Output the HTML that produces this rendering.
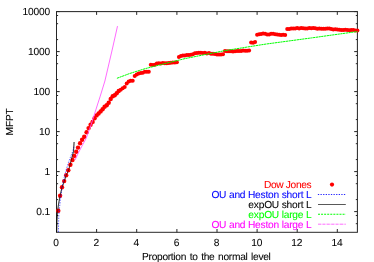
<!DOCTYPE html><html><head><meta charset="utf-8"><title>MFPT</title><style>html,body{margin:0;padding:0;background:#fff}svg{display:block}text{text-rendering:geometricPrecision;letter-spacing:-0.16px;font-family:"Liberation Sans",sans-serif;font-size:10.2px}</style></head><body>
<svg width="374" height="262" viewBox="0 0 374 262">
<rect width="374" height="262" fill="#fff"/>
<defs><filter id="b" x="0" y="0" width="374" height="262" filterUnits="userSpaceOnUse"><feGaussianBlur stdDeviation="0.35"/></filter><filter id="b3" x="0" y="0" width="374" height="262" filterUnits="userSpaceOnUse"><feGaussianBlur stdDeviation="0.5"/></filter><filter id="b2" x="0" y="0" width="374" height="262" filterUnits="userSpaceOnUse"><feGaussianBlur stdDeviation="0.22"/></filter></defs>
<g filter="url(#b2)" stroke="#262626" stroke-width="1" fill="none">
<rect x="56.5" y="11.6" width="300.9" height="220.7"/>
<path d="M56.5 232.3 v-3.3 M56.5 11.6 v3.3"/>
<path d="M96.6 232.3 v-3.3 M96.6 11.6 v3.3"/>
<path d="M136.7 232.3 v-3.3 M136.7 11.6 v3.3"/>
<path d="M176.9 232.3 v-3.3 M176.9 11.6 v3.3"/>
<path d="M217.0 232.3 v-3.3 M217.0 11.6 v3.3"/>
<path d="M257.1 232.3 v-3.3 M257.1 11.6 v3.3"/>
<path d="M297.2 232.3 v-3.3 M297.2 11.6 v3.3"/>
<path d="M337.3 232.3 v-3.3 M337.3 11.6 v3.3"/>
<path d="M56.5 223.7 h1.6 M357.4 223.7 h-1.6"/>
<path d="M56.5 215.5 h1.6 M357.4 215.5 h-1.6"/>
<path d="M56.5 211.6 h3.2 M357.4 211.6 h-3.2"/>
<path d="M56.5 199.6 h1.6 M357.4 199.6 h-1.6"/>
<path d="M56.5 183.7 h1.6 M357.4 183.7 h-1.6"/>
<path d="M56.5 175.5 h1.6 M357.4 175.5 h-1.6"/>
<path d="M56.5 171.6 h3.2 M357.4 171.6 h-3.2"/>
<path d="M56.5 159.6 h1.6 M357.4 159.6 h-1.6"/>
<path d="M56.5 143.7 h1.6 M357.4 143.7 h-1.6"/>
<path d="M56.5 135.5 h1.6 M357.4 135.5 h-1.6"/>
<path d="M56.5 131.6 h3.2 M357.4 131.6 h-3.2"/>
<path d="M56.5 119.6 h1.6 M357.4 119.6 h-1.6"/>
<path d="M56.5 103.7 h1.6 M357.4 103.7 h-1.6"/>
<path d="M56.5 95.5 h1.6 M357.4 95.5 h-1.6"/>
<path d="M56.5 91.6 h3.2 M357.4 91.6 h-3.2"/>
<path d="M56.5 79.6 h1.6 M357.4 79.6 h-1.6"/>
<path d="M56.5 63.7 h1.6 M357.4 63.7 h-1.6"/>
<path d="M56.5 55.5 h1.6 M357.4 55.5 h-1.6"/>
<path d="M56.5 51.6 h3.2 M357.4 51.6 h-3.2"/>
<path d="M56.5 39.6 h1.6 M357.4 39.6 h-1.6"/>
<path d="M56.5 23.7 h1.6 M357.4 23.7 h-1.6"/>
<path d="M56.5 15.5 h1.6 M357.4 15.5 h-1.6"/>
<path d="M56.5 11.6 h3.2 M357.4 11.6 h-3.2"/>
</g>
<g filter="url(#b)">
<path d="M56.7 232.0 L56.9 222.0 L57.4 213.0 L58.4 205.0 L60.1 195.8 L62.0 187.3 L64.2 181.3 L66.2 175.3 L68.7 170.0 L71.4 159.7 L73.5 151.5 L74.1 142.0" fill="none" stroke="#000" stroke-width="0.5"/>
<g fill="#ff0000">
<circle cx="58.3" cy="210.8" r="2.2"/>
<circle cx="60.1" cy="195.8" r="2.2"/>
<circle cx="62.0" cy="187.3" r="2.2"/>
<circle cx="64.2" cy="181.1" r="2.2"/>
<circle cx="66.2" cy="175.3" r="2.2"/>
<circle cx="68.3" cy="170.2" r="2.2"/>
<circle cx="70.4" cy="164.7" r="2.2"/>
<circle cx="72.5" cy="160.0" r="2.2"/>
<circle cx="74.3" cy="155.9" r="2.2"/>
<circle cx="76.2" cy="151.7" r="2.2"/>
<circle cx="78.0" cy="147.6" r="2.2"/>
<circle cx="80.1" cy="143.3" r="2.2"/>
<circle cx="82.1" cy="139.8" r="2.2"/>
<circle cx="84.2" cy="136.8" r="2.2"/>
<circle cx="86.6" cy="132.2" r="2.2"/>
<circle cx="88.6" cy="128.1" r="2.2"/>
<circle cx="90.6" cy="124.7" r="2.2"/>
<circle cx="92.6" cy="121.9" r="2.2"/>
<circle cx="94.6" cy="118.2" r="2.2"/>
<circle cx="96.6" cy="115.4" r="2.2"/>
<circle cx="98.6" cy="113.5" r="2.2"/>
<circle cx="100.6" cy="111.4" r="2.2"/>
<circle cx="102.6" cy="109.2" r="2.2"/>
<circle cx="104.6" cy="106.8" r="2.2"/>
<circle cx="106.7" cy="105.3" r="2.2"/>
<circle cx="108.7" cy="102.8" r="2.2"/>
<circle cx="110.7" cy="99.0" r="2.2"/>
<circle cx="112.7" cy="96.3" r="2.2"/>
<circle cx="114.7" cy="95.3" r="2.2"/>
<circle cx="116.7" cy="93.2" r="2.2"/>
<circle cx="118.7" cy="91.0" r="2.2"/>
<circle cx="120.7" cy="89.8" r="2.0"/>
<circle cx="122.7" cy="88.3" r="2.0"/>
<circle cx="124.7" cy="86.9" r="2.0"/>
<circle cx="126.7" cy="83.4" r="2.0"/>
<circle cx="128.7" cy="81.4" r="2.0"/>
<circle cx="130.7" cy="80.7" r="2.0"/>
<circle cx="132.7" cy="80.7" r="2.0"/>
<circle cx="134.7" cy="75.9" r="2.0"/>
<circle cx="136.7" cy="74.6" r="2.0"/>
<circle cx="138.7" cy="73.4" r="2.0"/>
<circle cx="140.8" cy="72.9" r="2.0"/>
<circle cx="142.8" cy="72.7" r="2.0"/>
<circle cx="144.8" cy="71.8" r="2.0"/>
<circle cx="146.8" cy="71.7" r="2.0"/>
<circle cx="148.8" cy="71.7" r="2.0"/>
<circle cx="150.8" cy="64.8" r="2.0"/>
<circle cx="152.8" cy="64.9" r="2.0"/>
<circle cx="154.8" cy="64.8" r="2.0"/>
<circle cx="156.8" cy="63.6" r="2.0"/>
<circle cx="158.8" cy="63.3" r="2.0"/>
<circle cx="160.8" cy="63.6" r="2.0"/>
<circle cx="162.8" cy="63.0" r="2.0"/>
<circle cx="164.8" cy="63.3" r="2.0"/>
<circle cx="166.8" cy="63.3" r="2.0"/>
<circle cx="168.8" cy="63.0" r="2.0"/>
<circle cx="170.8" cy="62.7" r="2.0"/>
<circle cx="172.8" cy="62.4" r="2.0"/>
<circle cx="174.9" cy="62.5" r="2.0"/>
<circle cx="176.9" cy="62.3" r="2.0"/>
<circle cx="178.9" cy="57.0" r="2.0"/>
<circle cx="180.9" cy="56.1" r="2.0"/>
<circle cx="182.9" cy="55.6" r="2.0"/>
<circle cx="184.9" cy="55.5" r="2.0"/>
<circle cx="186.9" cy="55.0" r="2.0"/>
<circle cx="188.9" cy="55.1" r="2.0"/>
<circle cx="190.9" cy="54.8" r="2.0"/>
<circle cx="192.9" cy="54.3" r="2.0"/>
<circle cx="194.9" cy="53.3" r="2.0"/>
<circle cx="196.9" cy="52.9" r="2.0"/>
<circle cx="198.9" cy="52.7" r="2.0"/>
<circle cx="200.9" cy="52.8" r="2.0"/>
<circle cx="202.9" cy="53.0" r="2.0"/>
<circle cx="204.9" cy="52.8" r="2.0"/>
<circle cx="206.9" cy="53.4" r="2.0"/>
<circle cx="209.0" cy="53.1" r="2.0"/>
<circle cx="211.0" cy="53.7" r="2.0"/>
<circle cx="213.0" cy="53.8" r="2.0"/>
<circle cx="215.0" cy="54.1" r="2.0"/>
<circle cx="217.0" cy="54.5" r="2.0"/>
<circle cx="219.0" cy="54.5" r="2.0"/>
<circle cx="221.0" cy="54.5" r="2.0"/>
<circle cx="223.0" cy="54.2" r="2.0"/>
<circle cx="225.0" cy="50.9" r="2.0"/>
<circle cx="227.0" cy="51.3" r="2.0"/>
<circle cx="229.0" cy="51.2" r="2.0"/>
<circle cx="231.0" cy="51.3" r="2.0"/>
<circle cx="233.0" cy="51.5" r="2.0"/>
<circle cx="235.0" cy="51.3" r="2.0"/>
<circle cx="237.0" cy="50.9" r="2.0"/>
<circle cx="239.0" cy="50.9" r="2.0"/>
<circle cx="241.1" cy="50.9" r="2.0"/>
<circle cx="243.1" cy="50.5" r="2.0"/>
<circle cx="245.1" cy="50.8" r="2.0"/>
<circle cx="247.1" cy="50.7" r="2.0"/>
<circle cx="249.1" cy="50.4" r="2.0"/>
<circle cx="251.1" cy="42.6" r="2.0"/>
<circle cx="253.1" cy="42.7" r="2.0"/>
<circle cx="255.1" cy="42.1" r="2.0"/>
<circle cx="257.1" cy="34.7" r="2.0"/>
<circle cx="259.1" cy="34.3" r="2.0"/>
<circle cx="261.1" cy="34.0" r="2.0"/>
<circle cx="263.1" cy="33.5" r="2.0"/>
<circle cx="265.1" cy="33.7" r="2.0"/>
<circle cx="267.1" cy="34.4" r="2.0"/>
<circle cx="269.1" cy="34.5" r="2.0"/>
<circle cx="271.1" cy="33.8" r="2.0"/>
<circle cx="273.1" cy="33.8" r="2.0"/>
<circle cx="275.2" cy="34.2" r="2.0"/>
<circle cx="277.2" cy="34.4" r="2.0"/>
<circle cx="279.2" cy="34.8" r="2.0"/>
<circle cx="281.2" cy="34.9" r="2.0"/>
<circle cx="283.2" cy="34.8" r="2.0"/>
<circle cx="285.2" cy="34.9" r="2.0"/>
<circle cx="287.2" cy="29.1" r="2.0"/>
<circle cx="289.2" cy="29.0" r="2.0"/>
<circle cx="291.2" cy="28.6" r="2.0"/>
<circle cx="293.2" cy="28.5" r="2.0"/>
<circle cx="295.2" cy="28.5" r="2.0"/>
<circle cx="297.2" cy="27.9" r="2.0"/>
<circle cx="299.2" cy="28.5" r="2.0"/>
<circle cx="301.2" cy="28.0" r="2.0"/>
<circle cx="303.2" cy="28.2" r="2.0"/>
<circle cx="305.2" cy="28.4" r="2.0"/>
<circle cx="307.2" cy="28.4" r="2.0"/>
<circle cx="309.3" cy="28.0" r="2.0"/>
<circle cx="311.3" cy="28.3" r="2.0"/>
<circle cx="313.3" cy="28.0" r="2.0"/>
<circle cx="315.3" cy="28.3" r="2.0"/>
<circle cx="317.3" cy="28.7" r="2.0"/>
<circle cx="319.3" cy="28.5" r="2.0"/>
<circle cx="321.3" cy="28.7" r="2.0"/>
<circle cx="323.3" cy="28.7" r="2.0"/>
<circle cx="325.3" cy="28.7" r="2.0"/>
<circle cx="327.3" cy="28.6" r="2.0"/>
<circle cx="329.3" cy="28.4" r="2.0"/>
<circle cx="331.3" cy="29.1" r="2.0"/>
<circle cx="333.3" cy="29.5" r="2.0"/>
<circle cx="335.3" cy="29.3" r="2.0"/>
<circle cx="337.3" cy="29.6" r="2.0"/>
<circle cx="339.3" cy="29.7" r="2.0"/>
<circle cx="341.4" cy="29.9" r="2.0"/>
<circle cx="343.4" cy="30.1" r="2.0"/>
<circle cx="345.4" cy="29.7" r="2.0"/>
<circle cx="347.4" cy="29.9" r="2.0"/>
<circle cx="349.4" cy="30.2" r="2.0"/>
<circle cx="351.4" cy="30.0" r="2.0"/>
<circle cx="353.4" cy="30.1" r="2.0"/>
<circle cx="355.4" cy="30.5" r="2.0"/>
<circle cx="357.4" cy="30.4" r="2.0"/>
</g>
<path d="M58.4 232.0 L58.8 215.0 L60.3 200.2 L62.0 188.0 L63.8 179.0 L66.0 170.6 L68.6 162.0 L73.0 150.6 L73.9 146.4" fill="none" stroke="#2020ff" stroke-width="0.85" stroke-opacity="0.85" stroke-dasharray="1.3 1.3"/>
<path d="M56.7 232.0 L56.9 222.0 L57.4 213.0 L58.4 205.0 L60.1 195.8 L62.0 187.3 L64.2 181.3 L66.2 175.3 L68.7 170.0 L71.4 159.7 L73.5 151.5 L74.1 142.0" fill="none" stroke="#000" stroke-width="0.7" stroke-opacity="0.75"/>
<path d="M116.9 78.3 L130.0 73.4 L145.0 68.7 L156.6 65.7 L185.0 58.6 L225.0 50.6 L265.0 44.2 L311.6 37.9 L357.5 31.5" fill="none" stroke="#00ff00" stroke-width="1.0" stroke-dasharray="2.3 0.45"/>
<path d="M75.0 160.0 L78.8 152.0 L82.5 145.0 L85.9 138.9 L90.7 126.0 L97.7 104.0 L100.0 96.9 L104.9 81.0 L112.6 48.0 L117.5 26.1" fill="none" stroke="#ff50ff" stroke-width="0.85"/>
</g><g filter="url(#b3)">
<g fill="#000">
<text transform="translate(50.0,15.2) scale(1,1)" text-anchor="end" stroke="#000" stroke-width="0.07">10000</text>
<text transform="translate(50.0,55.2) scale(1,1)" text-anchor="end" stroke="#000" stroke-width="0.07">1000</text>
<text transform="translate(50.0,95.2) scale(1,1)" text-anchor="end" stroke="#000" stroke-width="0.07">100</text>
<text transform="translate(50.0,135.2) scale(1,1)" text-anchor="end" stroke="#000" stroke-width="0.07">10</text>
<text transform="translate(50.0,175.2) scale(1,1)" text-anchor="end" stroke="#000" stroke-width="0.07">1</text>
<text transform="translate(50.0,215.2) scale(1,1)" text-anchor="end" stroke="#000" stroke-width="0.07">0.1</text>
<text transform="translate(56.1,246.2) scale(1,1)" text-anchor="middle" stroke="#000" stroke-width="0.07">0</text>
<text transform="translate(96.2,246.2) scale(1,1)" text-anchor="middle" stroke="#000" stroke-width="0.07">2</text>
<text transform="translate(136.3,246.2) scale(1,1)" text-anchor="middle" stroke="#000" stroke-width="0.07">4</text>
<text transform="translate(176.5,246.2) scale(1,1)" text-anchor="middle" stroke="#000" stroke-width="0.07">6</text>
<text transform="translate(216.6,246.2) scale(1,1)" text-anchor="middle" stroke="#000" stroke-width="0.07">8</text>
<text transform="translate(256.7,246.2) scale(1,1)" text-anchor="middle" stroke="#000" stroke-width="0.07">10</text>
<text transform="translate(296.8,246.2) scale(1,1)" text-anchor="middle" stroke="#000" stroke-width="0.07">12</text>
<text transform="translate(336.9,246.2) scale(1,1)" text-anchor="middle" stroke="#000" stroke-width="0.07">14</text>
<text transform="translate(206.3,260.3) scale(1,1)" text-anchor="middle" stroke="#000" stroke-width="0.07" style="letter-spacing:-0.3px;word-spacing:1.1px">Proportion to the normal level</text>
<text transform="translate(13.0,121.9) rotate(-90) scale(1,1)" text-anchor="middle" stroke="#000" stroke-width="0.07">MFPT</text>
</g>
<text transform="translate(311.4,187.6) scale(1,1)" text-anchor="end" fill="#ff0000" stroke="#ff0000" stroke-width="0.07" style="letter-spacing:-0.33px">Dow Jones</text>
<text transform="translate(311.4,197.8) scale(1,1)" text-anchor="end" fill="#0000ff" stroke="#0000ff" stroke-width="0.07" style="letter-spacing:-0.2px">OU and Heston short L</text>
<text transform="translate(311.4,207.8) scale(1,1)" text-anchor="end" fill="#000" stroke="#000" stroke-width="0.07" style="letter-spacing:-0.2px">expOU short L</text>
<text transform="translate(311.4,217.5) scale(1,1)" text-anchor="end" fill="#00ff00" stroke="#00ff00" stroke-width="0.07" style="letter-spacing:-0.2px">expOU large L</text>
<text transform="translate(311.4,227.5) scale(1,1)" text-anchor="end" fill="#ff00ff" stroke="#ff00ff" stroke-width="0.07" style="letter-spacing:-0.2px">OU and Heston large L</text>
<circle cx="332.0" cy="184.6" r="2.1" fill="#ff0000"/>
<path d="M317.9 194.5 H346" stroke="#0000ff" stroke-width="1" stroke-opacity="0.85" stroke-dasharray="1.3 1.3"/>
<path d="M318 204.5 H345.8" stroke="#222" stroke-width="0.75"/>
<path d="M318 214.2 H345.8" stroke="#00ff00" stroke-width="1.05" stroke-dasharray="2 1.07"/>
<path d="M318 224.2 H345.8" stroke="#ff48ff" stroke-width="0.9" stroke-opacity="0.9" stroke-dasharray="3 0.5 0.4 0.5"/>
</g>
</svg></body></html>
